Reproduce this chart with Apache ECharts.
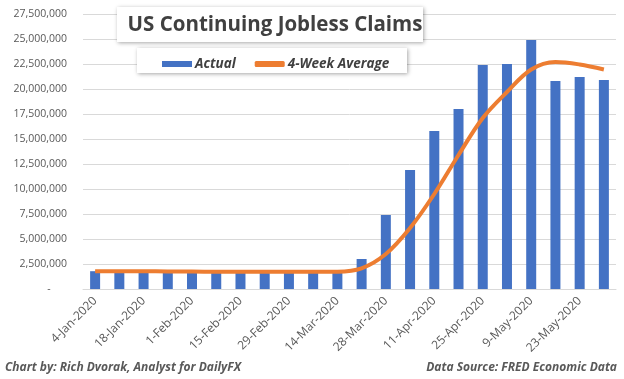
<!DOCTYPE html>
<html>
<head>
<meta charset="utf-8">
<script src="https://cdn.jsdelivr.net/npm/echarts@6/dist/echarts.min.js"></script>
<style>
html,body{margin:0;padding:0;background:#fff;}
#c{width:624px;height:379px;}
</style>
</head>
<body>
<div id="c"></div>
<script>
var weeks = ["4-Jan-2020","11-Jan-2020","18-Jan-2020","25-Jan-2020","1-Feb-2020","8-Feb-2020","15-Feb-2020","22-Feb-2020","29-Feb-2020","7-Mar-2020","14-Mar-2020","21-Mar-2020","28-Mar-2020","4-Apr-2020","11-Apr-2020","18-Apr-2020","25-Apr-2020","2-May-2020","9-May-2020","16-May-2020","23-May-2020","30-May-2020"];
var actual = [1780000,1720000,1710000,1730000,1700000,1720000,1720000,1730000,1720000,1700000,1720000,3000000,7400000,11900000,15800000,18000000,22400000,22500000,24900000,20800000,21200000,20900000];
var fourWeekAvg = [1780000,1780000,1770000,1760000,1740000,1720000,1720000,1720000,1720000,1720000,1730000,2070000,3500000,6100000,9500000,13400000,17100000,19700000,21950000,22700000,22450000,21950000];
var yTicks = {min:0, max:27500000, interval:2500000};
var titleText = "US Continuing Jobless Claims";
var seriesNames = ["Actual","4-Week Average"];
var footLeft = "Chart by: Rich Dvorak, Analyst for DailyFX";
var footRight = "Data Source: FRED Economic Data";

var chart = echarts.init(document.getElementById('c'), null, {renderer:'canvas'});
var txt = '#595959';
chart.setOption({
  animation:false,
  backgroundColor:'#fff',
  grid:{left:83, right:8, top:14, bottom:90, containLabel:false},
  title:{
    text:titleText, left:270, top:10, textAlign:'center', z:12,
    textStyle:{fontFamily:'Open Sans', fontWeight:'bold', fontSize:20.5, color:'#404040'}
  },
  legend:{
    data:[{name:seriesNames[0], icon:'rect'}, {name:seriesNames[1], icon:'roundRect'}],
    left:157, top:52, itemWidth:30, itemHeight:6, itemGap:19, z:12,
    textStyle:{fontFamily:'Open Sans', fontStyle:'italic', fontWeight:'bold', fontSize:13.5, color:'#404040', padding:[0,0,0,-2]}
  },
  graphic:[
    {type:'rect', z:10, shape:{x:117, y:7, width:306, height:35}, style:{fill:'#fff', shadowBlur:4, shadowColor:'rgba(0,0,0,0.35)', shadowOffsetX:1, shadowOffsetY:1}},
    {type:'rect', z:10, shape:{x:137, y:48, width:270, height:25}, style:{fill:'#fff', shadowBlur:4, shadowColor:'rgba(0,0,0,0.35)', shadowOffsetX:1, shadowOffsetY:1}},
    {type:'text', z:10, left:5, top:362, style:{text:footLeft, fontFamily:'Open Sans', fontStyle:'italic', fontWeight:'bold', fontSize:12, fill:txt}},
    {type:'text', z:10, right:7, top:362, style:{text:footRight, fontFamily:'Open Sans', fontStyle:'italic', fontWeight:'bold', fontSize:12, fill:txt}}
  ],
  xAxis:{
    type:'category', data:weeks, boundaryGap:true,
    axisLine:{lineStyle:{color:'#D9D9D9'}},
    axisTick:{interval:3, length:5, lineStyle:{color:'#D9D9D9'}},
    axisLabel:{interval:1, rotate:45, margin:10, fontFamily:'Open Sans', fontSize:12, color:txt}
  },
  yAxis:{
    type:'value', min:yTicks.min, max:yTicks.max, interval:yTicks.interval,
    axisLine:{show:false}, axisTick:{show:false},
    splitLine:{lineStyle:{color:'#D9D9D9'}},
    axisLabel:{margin:16, fontFamily:'Open Sans', fontSize:10.5, color:txt,
      formatter:function(v){ return v===0 ? '-      ' : v.toLocaleString('en-US'); }}
  },
  series:[
    {name:seriesNames[0], type:'bar', data:actual, barWidth:10, itemStyle:{color:'#4472C4'}},
    {name:seriesNames[1], type:'line', data:fourWeekAvg, smooth:0.35, symbol:'none', z:3,
      lineStyle:{color:'#ED7D31', width:4}, itemStyle:{color:'#ED7D31'}}
  ]
});
</script>
</body>
</html>
